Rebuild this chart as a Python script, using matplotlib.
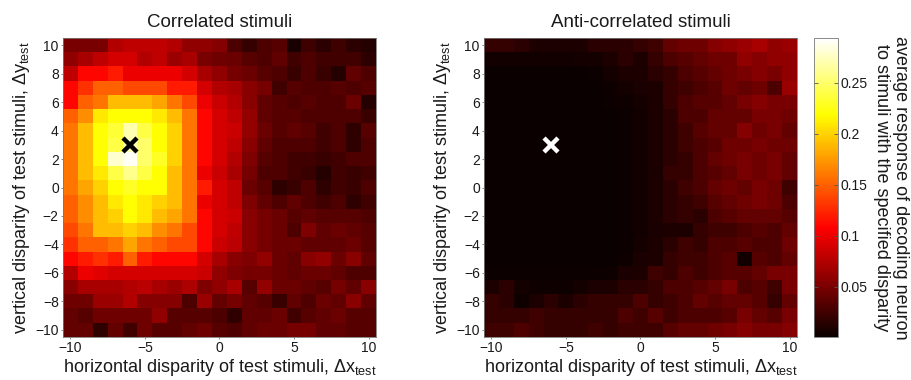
import numpy as np
import matplotlib
matplotlib.use("Agg")
import matplotlib.pyplot as plt

plt.rcParams['font.family'] = ['Liberation Sans', 'DejaVu Sans']
plt.rcParams['mathtext.fontset'] = 'custom'
plt.rcParams['mathtext.rm'] = 'Liberation Sans'
plt.rcParams['mathtext.it'] = 'Liberation Sans'
plt.rcParams['mathtext.bf'] = 'Liberation Sans'

# disparity grid
dx_values = list(range(-10, 11))
dy_values = list(range(10, -11, -1))  # rows, top to bottom

# preferred disparity of the decoding neuron
pref_dx = -6
pref_dy = 3

# Correlated stimuli: rows y=10 .. y=-10, columns x=-10 .. 10
correlated = [
    [0.05,0.05,0.05,0.075,0.08,0.08,0.08,0.075,0.06,0.06,0.055, 0.03,0.02,0.03,0.035,0.008,0.025,0.017,0.025,0.017,0.013],
    [0.06,0.07,0.08,0.09,0.09,0.075,0.08,0.065,0.07,0.05,0.045, 0.044,0.035,0.031,0.039,0.026,0.031,0.026,0.026,0.026,0.017],
    [0.08,0.11,0.11,0.12,0.10,0.10,0.10,0.10,0.09,0.07,0.06, 0.048,0.044,0.035,0.031,0.022,0.031,0.022,0.013,0.039,0.031],
    [0.11,0.13,0.15,0.15,0.14,0.14,0.14,0.12,0.12,0.09,0.075, 0.07,0.057,0.048,0.026,0.035,0.031,0.031,0.035,0.031,0.035],
    [0.11,0.15,0.16,0.19,0.19,0.19,0.18,0.16,0.14,0.10,0.085, 0.075,0.057,0.039,0.035,0.031,0.035,0.031,0.031,0.044,0.013],
    [0.15,0.17,0.21,0.22,0.22,0.22,0.21,0.19,0.16,0.11,0.09, 0.08,0.061,0.039,0.035,0.035,0.031,0.031,0.031,0.031,0.022],
    [0.16,0.19,0.22,0.235,0.27,0.24,0.22,0.20,0.16,0.11,0.09, 0.085,0.061,0.044,0.035,0.039,0.035,0.026,0.031,0.018,0.035],
    [0.16,0.19,0.22,0.24,0.27,0.25,0.22,0.20,0.16,0.11,0.09, 0.08,0.057,0.039,0.031,0.031,0.031,0.026,0.031,0.018,0.031],
    [0.16,0.19,0.22,0.28,0.29,0.25,0.23,0.20,0.16,0.11,0.09, 0.075,0.052,0.035,0.031,0.026,0.026,0.022,0.026,0.031,0.031],
    [0.16,0.19,0.21,0.24,0.26,0.24,0.22,0.19,0.16,0.10,0.085, 0.07,0.048,0.031,0.031,0.026,0.022,0.013,0.026,0.022,0.026],
    [0.16,0.18,0.20,0.22,0.23,0.22,0.22,0.19,0.16,0.12,0.09, 0.08,0.044,0.035,0.018,0.022,0.031,0.018,0.026,0.022,0.031],
    [0.15,0.17,0.19,0.21,0.22,0.21,0.20,0.19,0.16,0.10,0.09, 0.08,0.052,0.039,0.031,0.039,0.031,0.026,0.031,0.018,0.026],
    [0.15,0.17,0.19,0.20,0.22,0.21,0.19,0.18,0.16,0.11,0.09, 0.085,0.057,0.048,0.044,0.035,0.039,0.035,0.035,0.035,0.031],
    [0.14,0.16,0.19,0.19,0.20,0.19,0.17,0.16,0.14,0.11,0.09, 0.08,0.057,0.048,0.044,0.031,0.052,0.039,0.044,0.039,0.035],
    [0.13,0.15,0.15,0.16,0.18,0.16,0.15,0.14,0.14,0.11,0.085, 0.078,0.057,0.048,0.044,0.044,0.039,0.039,0.039,0.044,0.035],
    [0.11,0.12,0.13,0.12,0.15,0.12,0.11,0.11,0.11,0.09,0.07, 0.057,0.052,0.061,0.044,0.039,0.057,0.061,0.044,0.057,0.039],
    [0.075,0.10,0.095,0.09,0.09,0.09,0.09,0.09,0.09,0.085,0.06, 0.052,0.048,0.048,0.044,0.039,0.044,0.044,0.039,0.031,0.031],
    [0.057,0.07,0.07,0.07,0.075,0.078,0.07,0.065,0.072,0.052,0.06, 0.07,0.035,0.061,0.044,0.044,0.039,0.035,0.048,0.039,0.057],
    [0.045,0.045,0.065,0.065,0.075,0.055,0.055,0.055,0.03,0.065,0.04, 0.048,0.039,0.035,0.022,0.039,0.031,0.044,0.039,0.057,0.039],
    [0.04,0.035,0.045,0.045,0.045,0.045,0.06,0.035,0.035,0.035,0.03, 0.018,0.039,0.039,0.044,0.026,0.035,0.039,0.044,0.035,0.035],
    [0.04,0.04,0.018,0.04,0.026,0.045,0.035,0.035,0.04,0.045,0.035, 0.031,0.039,0.044,0.044,0.048,0.048,0.039,0.039,0.035,0.035],
]

# Anti-correlated stimuli: rows y=10 .. y=-10, columns x=-10 .. 10
anticorrelated = [
    [0.02,0.02,0.015,0.01,0.008,0.01,0.01,0.015, 0.015,0.015,0.02,0.025,0.04,0.045,0.045,0.055,0.06,0.065,0.07,0.06,0.065],
    [0.005,0.005,0.005,0.005,0.005,0.005,0.006,0.006, 0.01,0.015,0.01,0.02,0.03,0.035,0.04,0.045,0.045,0.06,0.055,0.06,0.06],
    [0.002,0.002,0.002,0.002,0.002,0.002,0.002,0.003, 0.006,0.01,0.01,0.015,0.02,0.03,0.035,0.04,0.045,0.05,0.055,0.05,0.06],
    [0.002,0.002,0.002,0.002,0.002,0.002,0.002,0.002, 0.004,0.006,0.008,0.01,0.02,0.025,0.03,0.035,0.045,0.04,0.045,0.03,0.065],
    [0.002,0.002,0.002,0.002,0.002,0.002,0.002,0.002, 0.003,0.004,0.006,0.01,0.02,0.03,0.035,0.035,0.04,0.05,0.055,0.05,0.05],
    [0.002,0.002,0.002,0.002,0.002,0.002,0.002,0.002, 0.002,0.003,0.005,0.01,0.015,0.03,0.03,0.04,0.04,0.04,0.05,0.05,0.045],
    [0.002,0.002,0.002,0.002,0.002,0.002,0.002,0.002, 0.002,0.003,0.005,0.01,0.015,0.025,0.035,0.04,0.04,0.055,0.045,0.05,0.04],
    [0.002,0.002,0.002,0.002,0.002,0.002,0.002,0.002, 0.002,0.003,0.005,0.01,0.015,0.025,0.03,0.035,0.045,0.045,0.05,0.045,0.045],
    [0.002,0.002,0.002,0.002,0.002,0.002,0.002,0.002, 0.002,0.003,0.005,0.01,0.015,0.02,0.03,0.04,0.045,0.05,0.045,0.05,0.04],
    [0.002,0.002,0.002,0.002,0.002,0.002,0.002,0.002, 0.002,0.003,0.005,0.008,0.02,0.02,0.03,0.035,0.04,0.05,0.045,0.05,0.04],
    [0.002,0.002,0.002,0.002,0.002,0.002,0.002,0.002, 0.002,0.003,0.005,0.01,0.015,0.025,0.03,0.04,0.045,0.04,0.05,0.045,0.025],
    [0.002,0.002,0.002,0.002,0.002,0.002,0.002,0.002, 0.002,0.003,0.005,0.01,0.015,0.02,0.025,0.035,0.04,0.045,0.05,0.045,0.03],
    [0.002,0.002,0.002,0.002,0.002,0.002,0.002,0.002, 0.002,0.003,0.005,0.01,0.015,0.02,0.015,0.03,0.035,0.04,0.04,0.04,0.035],
    [0.002,0.002,0.002,0.002,0.002,0.002,0.002,0.002, 0.002,0.003,0.005,0.008,0.01,0.01,0.02,0.025,0.025,0.03,0.035,0.03,0.04],
    [0.002,0.002,0.002,0.002,0.002,0.002,0.002,0.002, 0.002,0.003,0.006,0.01,0.015,0.025,0.02,0.03,0.03,0.035,0.03,0.03,0.045],
    [0.002,0.002,0.002,0.002,0.002,0.002,0.002,0.002, 0.002,0.004,0.008,0.01,0.02,0.025,0.025,0.03,0.035,0.005,0.035,0.03,0.04],
    [0.003,0.003,0.003,0.003,0.003,0.003,0.003,0.003, 0.004,0.008,0.01,0.025,0.02,0.03,0.025,0.03,0.035,0.035,0.04,0.05,0.05],
    [0.01,0.015,0.006,0.004,0.004,0.004,0.006,0.008, 0.01,0.015,0.015,0.02,0.03,0.03,0.035,0.04,0.05,0.03,0.035,0.025,0.05],
    [0.02,0.015,0.004,0.01,0.015,0.01,0.015,0.02, 0.02,0.02,0.03,0.02,0.025,0.03,0.04,0.035,0.04,0.04,0.035,0.02,0.04],
    [0.02,0.02,0.02,0.025,0.02,0.02,0.02,0.02, 0.02,0.03,0.025,0.035,0.025,0.03,0.03,0.03,0.035,0.05,0.04,0.035,0.05],
    [0.025,0.025,0.03,0.025,0.02,0.02,0.02,0.025, 0.02,0.025,0.025,0.025,0.035,0.04,0.04,0.045,0.05,0.055,0.05,0.05,0.055],
]

titles = ["Correlated stimuli", "Anti-correlated stimuli"]
x_ticks = [-10, -5, 0, 5, 10]
y_ticks = [-10, -8, -6, -4, -2, 0, 2, 4, 6, 8, 10]
cbar_ticks = [0.05, 0.1, 0.15, 0.2, 0.25]
cbar_ticklabels = ['0.05', '0.1', '0.15', '0.2', '0.25']
vmin, vmax = 0.001, 0.294

W, H = 912, 380
fig = plt.figure(figsize=(W / 100, H / 100), dpi=100)

def ax_rect(x0, x1, y0, y1):
    return [x0 / W, 1 - y1 / H, (x1 - x0) / W, (y1 - y0) / H]

axes = [fig.add_axes(ax_rect(63, 376, 38, 337)),
        fig.add_axes(ax_rect(484, 797, 38, 337))]
cax = fig.add_axes(ax_rect(814, 838, 38, 337))

datasets = [correlated, anticorrelated]
marker_colors = ['black', 'white']
frame_col = '#777777'
text_col = '#1a1a1a'
half = 0.5
ext = [dx_values[0] - half, dx_values[-1] + half, dy_values[-1] - half, dy_values[0] + half]

im = None
for ax, data, title, mc in zip(axes, datasets, titles, marker_colors):
    im = ax.imshow(np.array(data), cmap='hot', vmin=vmin, vmax=vmax,
                   extent=ext, origin='upper', interpolation='nearest', aspect='auto')
    ax.plot([pref_dx], [pref_dy], marker='x', color=mc, markersize=9.5, mew=3.2, linestyle='none')
    ax.set_xlim(ext[0], ext[1])
    ax.set_ylim(ext[2], ext[3])
    ax.set_xticks(x_ticks)
    ax.set_yticks(y_ticks)
    ax.tick_params(direction='out', length=1.5, width=0.6, color=frame_col,
                   labelsize=10, pad=1.5, labelcolor=text_col)
    for s in ax.spines.values():
        s.set_color(frame_col)
        s.set_linewidth(0.6)
    ax.set_title(title, fontsize=13.5, pad=8, color=text_col)
    ax.set_xlabel(r'horizontal disparity of test stimuli, $\Delta$x$_{\mathrm{test}}$',
                  fontsize=13, color=text_col)
    ax.set_ylabel(r'vertical disparity of test stimuli, $\Delta$y$_{\mathrm{test}}$',
                  fontsize=13, color=text_col)
    ax.xaxis.set_label_coords(0.5, -0.068)
    ax.yaxis.set_label_coords(-0.098, 0.5)

cb = fig.colorbar(im, cax=cax, ticks=cbar_ticks)
cb.ax.set_yticklabels(cbar_ticklabels)
cb.ax.tick_params(direction='in', length=3, width=0.6, color='#555555', labelsize=10, pad=2,
                  left=True, right=True, labelcolor=text_col)
cb.outline.set_edgecolor(frame_col)
cb.outline.set_linewidth(0.6)

fig.text(891 / W, 1 - 187.5 / H,
         'average response of decoding neuron\nto stimuli with the specified disparity',
         rotation=270, fontsize=13, ha='center', va='center', multialignment='center',
         color=text_col, linespacing=1.2)

fig.savefig('out.png', dpi=100)
